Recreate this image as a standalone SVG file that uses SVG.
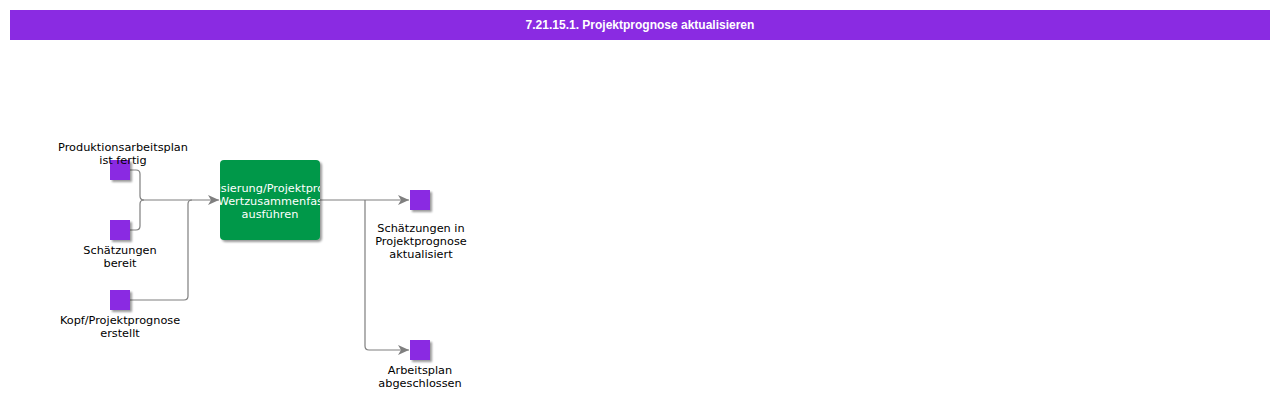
<svg xmlns="http://www.w3.org/2000/svg" width="1280" height="400" viewBox="0 0 1280 400">
<defs>
<style>
.lbl{font-family:"DejaVu Sans",sans-serif;font-size:11.3px;fill:#000;text-anchor:middle}
.ev{fill:#8a2be2}
.con{fill:none;stroke:#7f7f7f;stroke-width:1.2}
.title{font-family:"Liberation Sans",Arial,sans-serif;font-weight:bold;font-size:12px;fill:#fff;text-anchor:middle}
.fn{font-family:"DejaVu Sans",sans-serif;font-size:11.3px;fill:#fff;text-anchor:middle}
</style>
<marker id="arr" markerWidth="12" markerHeight="10" refX="11" refY="5" orient="auto" markerUnits="userSpaceOnUse">
<path d="M0,0 L11,5 L0,10 L3,5 Z" fill="#7f7f7f"/>
</marker>
<clipPath id="fc"><rect x="220" y="160" width="100" height="80"/></clipPath>
<filter id="ds" x="-20%" y="-20%" width="150%" height="150%">
<feGaussianBlur in="SourceAlpha" stdDeviation="1.2"/>
<feOffset dx="2" dy="2" result="b"/>
<feComponentTransfer><feFuncA type="linear" slope="0.4"/></feComponentTransfer>
<feMerge><feMergeNode/><feMergeNode in="SourceGraphic"/></feMerge>
</filter>
</defs>
<rect width="1280" height="400" fill="#fff"/>
<g id="title">
<rect x="10" y="10" width="1260" height="30" fill="#8a2be2"/>
<text class="title" x="640" y="29">7.21.15.1. Projektprognose aktualisieren</text>
</g>
<g id="connectors">
<path class="con" d="M130,170 H136 Q140,170 140,174 V196 Q140,200 144,200 H219" marker-end="url(#arr)"/>
<path class="con" d="M130,230 H136 Q140,230 140,226 V204 Q140,200 144,200"/>
<path class="con" d="M130,300 H184 Q188,300 188,296 V204 Q188,200 192,200"/>
<path class="con" d="M320,200 H409" marker-end="url(#arr)"/>
<path class="con" d="M365,200 V346 Q365,350 369,350 H409" marker-end="url(#arr)"/>
</g>
<g id="n1">
<rect class="ev" x="110" y="160" width="20" height="20" filter="url(#ds)"/>
<text class="lbl" x="123" y="151">Produktionsarbeitsplan</text>
<text class="lbl" x="123" y="164">ist fertig</text>
</g>
<g id="n2">
<rect class="ev" x="110" y="220" width="20" height="20" filter="url(#ds)"/>
<text class="lbl" x="120" y="254">Schätzungen</text>
<text class="lbl" x="120" y="267">bereit</text>
</g>
<g id="n3">
<rect class="ev" x="110" y="290" width="20" height="20" filter="url(#ds)"/>
<text class="lbl" x="120" y="324">Kopf/Projektprognose</text>
<text class="lbl" x="120" y="337">erstellt</text>
</g>
<g id="f1">
<rect x="220" y="160" width="100" height="80" rx="4" fill="#00984a" filter="url(#ds)"/>
<g clip-path="url(#fc)">
<text class="fn" x="270" y="192">Aktualisierung/Projektprognose</text>
<text class="fn" x="284" y="205">Wertzusammenfassung</text>
<text class="fn" x="270" y="218">ausführen</text>
</g>
</g>
<g id="n4">
<rect class="ev" x="410" y="190" width="20" height="20" filter="url(#ds)"/>
<text class="lbl" x="421" y="232">Schätzungen in</text>
<text class="lbl" x="421" y="245">Projektprognose</text>
<text class="lbl" x="421" y="258">aktualisiert</text>
</g>
<g id="n5">
<rect class="ev" x="410" y="340" width="20" height="20" filter="url(#ds)"/>
<text class="lbl" x="420" y="374">Arbeitsplan</text>
<text class="lbl" x="420" y="387">abgeschlossen</text>
</g>
</svg>
